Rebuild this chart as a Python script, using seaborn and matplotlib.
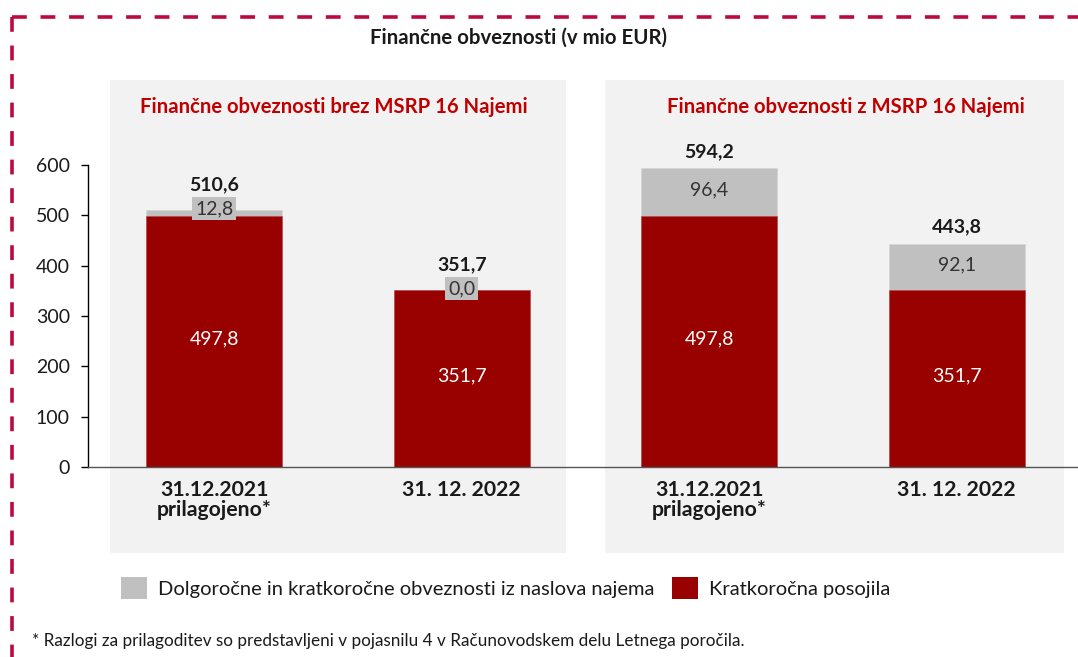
import matplotlib
matplotlib.use("Agg")
import matplotlib.pyplot as plt
from matplotlib.patches import Rectangle, Patch
from matplotlib.lines import Line2D
import pandas as pd
import seaborn as sns

# chart values
bar_ids = ["brez_2021", "brez_2022", "z_2021", "z_2022"]
tick_labels = ["31.12.2021\nprilagojeno*", "31. 12. 2022", "31.12.2021\nprilagojeno*", "31. 12. 2022"]
loans = [497.8, 351.7, 497.8, 351.7]
leases = [12.8, 0.0, 96.4, 92.1]
totals = [510.6, 351.7, 594.2, 443.8]
panel_titles = ["Finančne obveznosti brez MSRP 16 Najemi", "Finančne obveznosti z MSRP 16 Najemi"]
legend_labels = ["Dolgoročne in kratkoročne obveznosti iz naslova najema", "Kratkoročna posojila"]
title = "Finančne obveznosti (v mio EUR)"
footnote = "* Razlogi za prilagoditev so predstavljeni v pojasnilu 4 v Računovodskem delu Letnega poročila."

RED = "#990000"
GRAY = "#C0C0C0"
PANEL = "#F2F2F2"
BORDER = "#BC0A3E"
TXT = "#1a1a1a"


def fmt(v):
    return f"{v:.1f}".replace(".", ",")


df = pd.DataFrame({"bar": bar_ids, "loans": loans, "leases": leases, "total": totals})

sns.set_theme(style="white")
plt.rcParams["font.family"] = ["Lato", "DejaVu Sans"]
plt.rcParams["text.color"] = TXT

W, H = 1078, 657
fig = plt.figure(figsize=(W / 100, H / 100), dpi=100)
ax = fig.add_axes([88 / W, 1 - 467 / H, 990 / W, 302 / H])
ax.set_facecolor("none")

# light grey panels behind the two groups
for x0, w in [(110, 456), (605, 459)]:
    fig.add_artist(Rectangle((x0 / W, 1 - 553 / H), w / W, 473 / H, transform=fig.transFigure,
                             facecolor=PANEL, edgecolor="none", zorder=-10))

# dashed frame on top and left
dash = (0, (4.1, 3.8))
fig.add_artist(Line2D([12 / W, 1], [1 - 17 / H] * 2, transform=fig.transFigure,
                      color=BORDER, lw=2.6, linestyle=dash))
fig.add_artist(Line2D([12 / W] * 2, [1 - 17 / H, 0], transform=fig.transFigure,
                      color=BORDER, lw=2.6, linestyle=dash))

# stacked bars: total in grey, loans in red over it
sns.barplot(data=df, x="bar", y="total", order=bar_ids, color=GRAY, saturation=1,
            width=0.55, edgecolor="#d6d6d6", linewidth=0.6, ax=ax)
sns.barplot(data=df, x="bar", y="loans", order=bar_ids, color=RED, saturation=1,
            width=0.55, edgecolor="#b84a4a", linewidth=0.4, ax=ax)

for i in range(len(bar_ids)):
    ax.text(i, loans[i] / 2 + 5, fmt(loans[i]), ha="center", va="center", color="white", fontsize=14)
    if leases[i] < 30:
        ax.text(i, totals[i] + 3, fmt(leases[i]), ha="center", va="center", color="#333333", fontsize=14,
                bbox=dict(boxstyle="square,pad=0.15", facecolor=GRAY, edgecolor="none"))
        ax.text(i, totals[i] + 50, fmt(totals[i]), ha="center", va="center", fontsize=14, fontweight="bold")
    else:
        ax.text(i, loans[i] + leases[i] / 2 + 4, fmt(leases[i]), ha="center", va="center",
                color="#333333", fontsize=14)
        ax.text(i, totals[i] + 33, fmt(totals[i]), ha="center", va="center", fontsize=14, fontweight="bold")

ax.set_xlim(-0.51, 3.49)
ax.set_ylim(0, 600)
ax.set_yticks(range(0, 601, 100))
ax.set_xticks(range(4))
ax.set_xticklabels(tick_labels, fontweight="bold", fontsize=15.3, linespacing=1.0)
ax.tick_params(axis="y", left=True, length=5, width=1, color="black", pad=8, labelsize=14, labelcolor=TXT)
ax.tick_params(axis="x", bottom=False, pad=3, labelcolor=TXT)
ax.set_xlabel("")
ax.set_ylabel("")
sns.despine(ax=ax)
ax.spines["left"].set_color("black")
ax.spines["left"].set_linewidth(1)
ax.spines["bottom"].set_color("#555555")
ax.spines["bottom"].set_linewidth(1)

fig.text(519 / W, 1 - 38 / H, title, ha="center", va="center", fontsize=14.7, fontweight="bold")
fig.text(334 / W, 1 - 107 / H, panel_titles[0], ha="center", va="center", fontsize=14.6,
         fontweight="bold", color="#C00000")
fig.text(846 / W, 1 - 107 / H, panel_titles[1], ha="center", va="center", fontsize=14.6,
         fontweight="bold", color="#C00000")

handles = [Patch(facecolor=GRAY, edgecolor="none"), Patch(facecolor=RED, edgecolor="none")]
fig.legend(handles, legend_labels, loc="center left", bbox_to_anchor=(121 / W, 1 - 588 / H),
           ncol=2, frameon=False, fontsize=14.5, borderpad=0, borderaxespad=0,
           handlelength=1.3, handleheight=1.3, handletextpad=0.55, columnspacing=0.85)

fig.text(32 / W, 1 - 641 / H, footnote, ha="left", va="center", fontsize=12.3)

fig.savefig("out.png", dpi=100)
